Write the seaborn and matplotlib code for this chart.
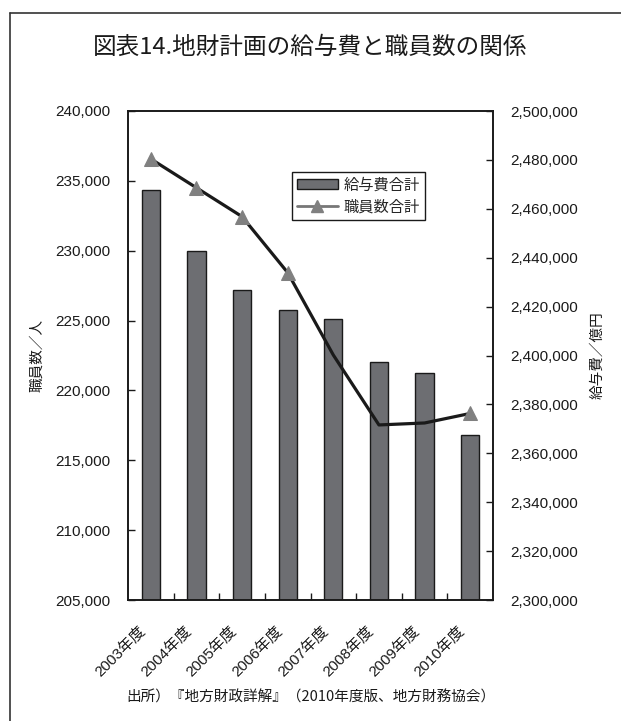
import numpy as np
import pandas as pd
import matplotlib
matplotlib.use("Agg")
import matplotlib.pyplot as plt
from matplotlib.lines import Line2D
from matplotlib.patches import Patch
from matplotlib.ticker import FuncFormatter, FixedLocator
from matplotlib.transforms import ScaledTranslation
import seaborn as sns

# ---- data ----
years = ["2003年度", "2004年度", "2005年度", "2006年度",
         "2007年度", "2008年度", "2009年度", "2010年度"]
salary_total = [234370, 229960, 227210, 225740, 225110, 222060, 221250, 216810]
staff_total = [2480400, 2468600, 2456800, 2433900, 2400200, 2371600, 2372400, 2376300]
marked_years = [0, 1, 2, 3, 7]

title = "図表14.地財計画の給与費と職員数の関係"
left_label = "職員数／人"
right_label = "給与費／億円"
bar_name = "給与費合計"
line_name = "職員数合計"
source = "出所）『地方財政詳解』（2010年度版、地方財務協会）"

sns.set_theme(style="white")
plt.rcParams["font.family"] = ["Liberation Sans", "Noto Sans CJK JP", "DejaVu Sans"]
CJK = ["Noto Sans CJK JP", "DejaVu Sans"]

df = pd.DataFrame({"year": years, "salary": salary_total, "staff": staff_total})

fig = plt.figure(figsize=(6.21, 7.21), dpi=100)
ax = fig.add_axes([128 / 621, 1 - 600 / 721, 365 / 621, 489 / 721])

sns.barplot(data=df, x="year", y="salary", ax=ax, color="#6d6e72",
            width=0.4, edgecolor="#1a1a1a", linewidth=1.0, saturation=1)
ax.set_ylim(205000, 240000)
ax.set_xlim(-0.5, len(years) - 0.5)
ax.set_yticks(np.arange(205000, 240001, 5000))

ax2 = ax.twinx()
sns.lineplot(x=np.arange(len(years)), y=df["staff"], ax=ax2, color="#1a1a1a",
             linewidth=2.3, marker="^", markersize=10.5, markevery=marked_years,
             markerfacecolor="#808080", markeredgecolor="#808080", legend=False)
ax2.set_ylim(2300000, 2500000)
ax2.set_yticks(np.arange(2300000, 2500001, 20000))

fmt = FuncFormatter(lambda v, p: f"{int(v):,}")
ax.yaxis.set_major_formatter(fmt)
ax2.yaxis.set_major_formatter(fmt)

for a in (ax, ax2):
    for s in a.spines.values():
        s.set_visible(True)
        s.set_color("#1a1a1a")
        s.set_linewidth(1.2)

ax.tick_params(axis="y", direction="in", length=5, width=1, color="#1a1a1a",
               labelsize=11, pad=12.5, labelcolor="#1a1a1a", left=True)
ax2.tick_params(axis="y", direction="in", length=5, width=1, color="#1a1a1a",
                labelsize=11, pad=12.5, labelcolor="#1a1a1a", right=True)

ax.set_xticks(range(len(years)))
ax.set_xticklabels(years, rotation=45, ha="right", rotation_mode="anchor",
                   fontsize=11, color="#1a1a1a")
ax.tick_params(axis="x", which="major", length=0, pad=17)
shift = ScaledTranslation(-13 / 100, 0, fig.dpi_scale_trans)
for lbl in ax.get_xticklabels():
    lbl.set_transform(lbl.get_transform() + shift)
ax.xaxis.set_minor_locator(FixedLocator(np.arange(0.5, len(years) - 1, 1.0)))
ax.tick_params(axis="x", which="minor", direction="in", length=5, width=1,
               color="#1a1a1a", bottom=True)

ax.set_xlabel("")
ax.set_ylabel(left_label, fontsize=10.5, family=CJK, color="#1a1a1a")
ax.yaxis.set_label_coords((44 - 128) / 365, 0.5)
ax2.set_ylabel(right_label, fontsize=10.5, family=CJK, color="#1a1a1a",
               rotation=90)
ax2.yaxis.set_label_coords((590 - 128) / 365, 0.5)

handles = [
    Patch(facecolor="#6d6e72", edgecolor="#1a1a1a", linewidth=1.0),
    Line2D([0], [0], color="#777777", linewidth=2, marker="^", markersize=8,
           markerfacecolor="#808080", markeredgecolor="#808080"),
]
leg = fig.legend(handles, [bar_name, line_name], loc="upper left",
                 bbox_to_anchor=(292 / 621, 1 - 172 / 721),
                 prop={"family": CJK, "size": 11}, frameon=True, fancybox=False,
                 edgecolor="#1a1a1a", framealpha=1, handlelength=2.7,
                 handleheight=0.6, borderpad=0.3, labelspacing=0.3,
                 handletextpad=0.4, borderaxespad=0)
leg.get_frame().set_linewidth(1.0)

fig.text(0.5, 1 - 47 / 721, title, ha="center", va="center", fontsize=17,
         family=CJK, color="#1a1a1a")
fig.text(311 / 621, 1 - 698 / 721, source, ha="center", va="center",
         fontsize=10.5, family=CJK, color="#1a1a1a")

# outer frame (top and left edges)
fig.add_artist(Line2D([10 / 621, 10 / 621], [0, 1 - 13 / 721],
                      transform=fig.transFigure, color="#333333", linewidth=1.2))
fig.add_artist(Line2D([10 / 621, 1], [1 - 13 / 721, 1 - 13 / 721],
                      transform=fig.transFigure, color="#333333", linewidth=1.2))

fig.savefig("out.png", dpi=100, facecolor="white")
